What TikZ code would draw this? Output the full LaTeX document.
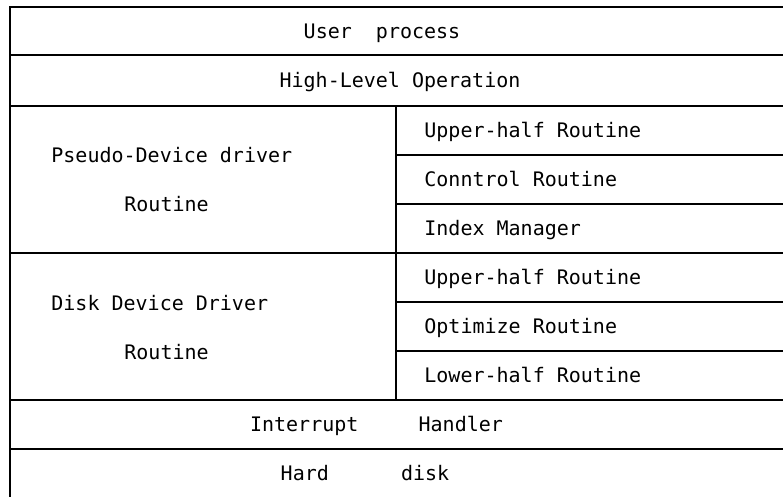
\documentclass[tikz,border=0pt]{standalone}
\usepackage{fontspec}
\setmonofont{DejaVu Sans Mono}
\usepackage{tikz}

\tikzset{
	layer/.style={inner sep=0pt, text height=7.3pt, text depth=0pt},
	rule/.style={line width=1pt}
}

\begin{document}
\begin{tikzpicture}[x=0.5pt, y=-0.5pt, font=\ttfamily\fontsize{10pt}{12pt}\selectfont]
	\useasboundingbox (0,0) rectangle (783,497);
	
	% left border, full-width rules, column divider
	\draw[rule] (10,497) -- (10,7) -- (783,7);
	\draw[rule] (10,55) -- (783,55);
	\draw[rule] (10,106) -- (783,106);
	\draw[rule] (10,253) -- (783,253);
	\draw[rule] (10,400) -- (783,400);
	\draw[rule] (10,449) -- (783,449);
	\draw[rule] (396,106) -- (396,400);
	
	% rules of the right column
	\draw[rule] (396,155) -- (783,155);
	\draw[rule] (396,204) -- (783,204);
	\draw[rule] (396,302) -- (783,302);
	\draw[rule] (396,351) -- (783,351);
	
	\node[layer] (user) at (382,31) {User~~process};
	\node[layer] (highlevel) at (400,80.5) {High-Level Operation};
	
	\node[layer, anchor=west] (pseudo) at (51,155) {Pseudo-Device driver};
	\node[layer, anchor=west] (pseudort) at (124,204) {Routine};
	\node[layer, anchor=west] (upperA) at (424,130.5) {Upper-half Routine};
	\node[layer, anchor=west] (control) at (424,179.5) {Conntrol Routine};
	\node[layer, anchor=west] (index) at (424,228.5) {Index Manager};
	
	\node[layer, anchor=west] (disk) at (51,303) {Disk Device Driver};
	\node[layer, anchor=west] (diskrt) at (124,352) {Routine};
	\node[layer, anchor=west] (upperB) at (424,277.5) {Upper-half Routine};
	\node[layer, anchor=west] (optimize) at (424,326.5) {Optimize Routine};
	\node[layer, anchor=west] (lower) at (424,375.5) {Lower-half Routine};
	
	\node[layer] (interrupt) at (376.5,424.5) {Interrupt~~~~~Handler};
	\node[layer] (harddisk) at (365,473) {Hard~~~~~~disk};
\end{tikzpicture}
\end{document}
